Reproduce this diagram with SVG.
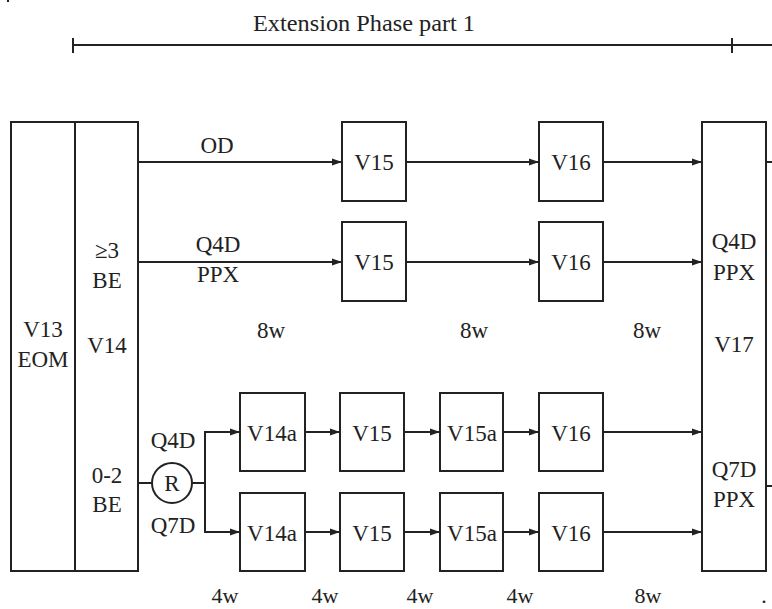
<svg xmlns="http://www.w3.org/2000/svg" width="772" height="609" viewBox="0 0 772 609">
<defs>
<style>
.box{fill:#fff;stroke:#222;stroke-width:2}
.ln{fill:none;stroke:#222;stroke-width:2}
.t{font-family:"Liberation Serif","Times New Roman",serif;font-size:23px;fill:#222;text-anchor:middle}
.b{font-size:22px}
</style>
<marker id="ah" viewBox="0 0 10 10" refX="10" refY="5" markerWidth="5" markerHeight="5" orient="auto" markerUnits="strokeWidth">
<path d="M0,1.5 L10,5 L0,8.5 z" fill="#222"/>
</marker>
</defs>
<rect width="772" height="609" fill="#fff"/>
<rect x="7" y="0" width="2" height="2" fill="#222"/>
<g id="timeline">
<line class="ln" x1="73" y1="45" x2="772" y2="45"/>
<line class="ln" x1="73" y1="38" x2="73" y2="53"/>
<line class="ln" x1="732" y1="38" x2="732" y2="53"/>
<text class="t" x="364" y="31" textLength="222" lengthAdjust="spacingAndGlyphs">Extension Phase part 1</text>
</g>
<g id="v13">
<rect class="box" x="11" y="122" width="64" height="449"/>
<text class="t" x="43" y="337">V13</text>
<text class="t" x="43" y="367">EOM</text>
</g>
<g id="v14">
<rect class="box" x="75" y="122" width="63" height="449"/>
<text class="t" x="107" y="258">≥3</text>
<text class="t" x="107" y="288">BE</text>
<text class="t" x="107" y="353">V14</text>
<text class="t" x="107" y="483">0-2</text>
<text class="t" x="107" y="512">BE</text>
</g>
<g id="v17">
<rect class="box" x="702" y="122" width="64" height="449"/>
<text class="t" x="734" y="249">Q4D</text>
<text class="t" x="734" y="280">PPX</text>
<text class="t" x="734" y="352">V17</text>
<text class="t" x="734" y="477">Q7D</text>
<text class="t" x="734" y="507">PPX</text>
</g>
<g id="r">
<circle class="box" cx="172" cy="483" r="20"/>
<text class="t" x="172" y="491">R</text>
</g>
<g id="r1v15"><rect class="box" x="342" y="122" width="64" height="79"/><text class="t" x="374" y="170">V15</text></g>
<g id="r1v16"><rect class="box" x="539" y="122" width="64" height="79"/><text class="t" x="571" y="170">V16</text></g>
<g id="r2v15"><rect class="box" x="342" y="222" width="64" height="79"/><text class="t" x="374" y="270">V15</text></g>
<g id="r2v16"><rect class="box" x="539" y="222" width="64" height="79"/><text class="t" x="571" y="270">V16</text></g>
<g id="r3v14a"><rect class="box" x="240" y="393" width="65" height="78"/><text class="t" x="272" y="441">V14a</text></g>
<g id="r3v15"><rect class="box" x="340" y="393" width="64" height="78"/><text class="t" x="372" y="441">V15</text></g>
<g id="r3v15a"><rect class="box" x="440" y="393" width="63" height="78"/><text class="t" x="472" y="441">V15a</text></g>
<g id="r3v16"><rect class="box" x="539" y="393" width="64" height="78"/><text class="t" x="571" y="441">V16</text></g>
<g id="r4v14a"><rect class="box" x="240" y="493" width="65" height="78"/><text class="t" x="272" y="541">V14a</text></g>
<g id="r4v15"><rect class="box" x="340" y="493" width="64" height="78"/><text class="t" x="372" y="541">V15</text></g>
<g id="r4v15a"><rect class="box" x="440" y="493" width="63" height="78"/><text class="t" x="472" y="541">V15a</text></g>
<g id="r4v16"><rect class="box" x="539" y="493" width="64" height="78"/><text class="t" x="571" y="541">V16</text></g>
<g id="connectors">
<line class="ln" x1="138" y1="162" x2="342" y2="162" marker-end="url(#ah)"/>
<line class="ln" x1="406" y1="162" x2="539" y2="162" marker-end="url(#ah)"/>
<line class="ln" x1="603" y1="162" x2="702" y2="162" marker-end="url(#ah)"/>
<line class="ln" x1="766" y1="162" x2="772" y2="162"/>
<line class="ln" x1="138" y1="262" x2="342" y2="262" marker-end="url(#ah)"/>
<line class="ln" x1="406" y1="262" x2="539" y2="262" marker-end="url(#ah)"/>
<line class="ln" x1="603" y1="262" x2="702" y2="262" marker-end="url(#ah)"/>
<line class="ln" x1="138" y1="483" x2="152" y2="483"/>
<path class="ln" d="M192,483 H205"/>
<path class="ln" d="M205,432 V532"/>
<line class="ln" x1="204" y1="432" x2="240" y2="432" marker-end="url(#ah)"/>
<line class="ln" x1="204" y1="532" x2="240" y2="532" marker-end="url(#ah)"/>
<line class="ln" x1="305" y1="432" x2="340" y2="432" marker-end="url(#ah)"/>
<line class="ln" x1="404" y1="432" x2="440" y2="432" marker-end="url(#ah)"/>
<line class="ln" x1="503" y1="432" x2="539" y2="432" marker-end="url(#ah)"/>
<line class="ln" x1="603" y1="432" x2="702" y2="432" marker-end="url(#ah)"/>
<line class="ln" x1="305" y1="532" x2="340" y2="532" marker-end="url(#ah)"/>
<line class="ln" x1="404" y1="532" x2="440" y2="532" marker-end="url(#ah)"/>
<line class="ln" x1="503" y1="532" x2="539" y2="532" marker-end="url(#ah)"/>
<line class="ln" x1="603" y1="532" x2="702" y2="532" marker-end="url(#ah)"/>
<line class="ln" x1="766" y1="486" x2="772" y2="486"/>
</g>
<g id="labels">
<text class="t" x="217" y="153">OD</text>
<text class="t" x="218" y="252">Q4D</text>
<text class="t" x="218" y="282">PPX</text>
<text class="t" x="173" y="448">Q4D</text>
<text class="t" x="173" y="533">Q7D</text>
<text class="t" x="271" y="338">8w</text>
<text class="t" x="474" y="338">8w</text>
<text class="t" x="647" y="338">8w</text>
<text class="t b" x="225" y="603">4w</text>
<text class="t b" x="325" y="603">4w</text>
<text class="t b" x="420" y="603">4w</text>
<text class="t b" x="520" y="603">4w</text>
<text class="t b" x="648" y="603">8w</text>
<text class="t b" x="764" y="603">.</text>
</g>
</svg>
